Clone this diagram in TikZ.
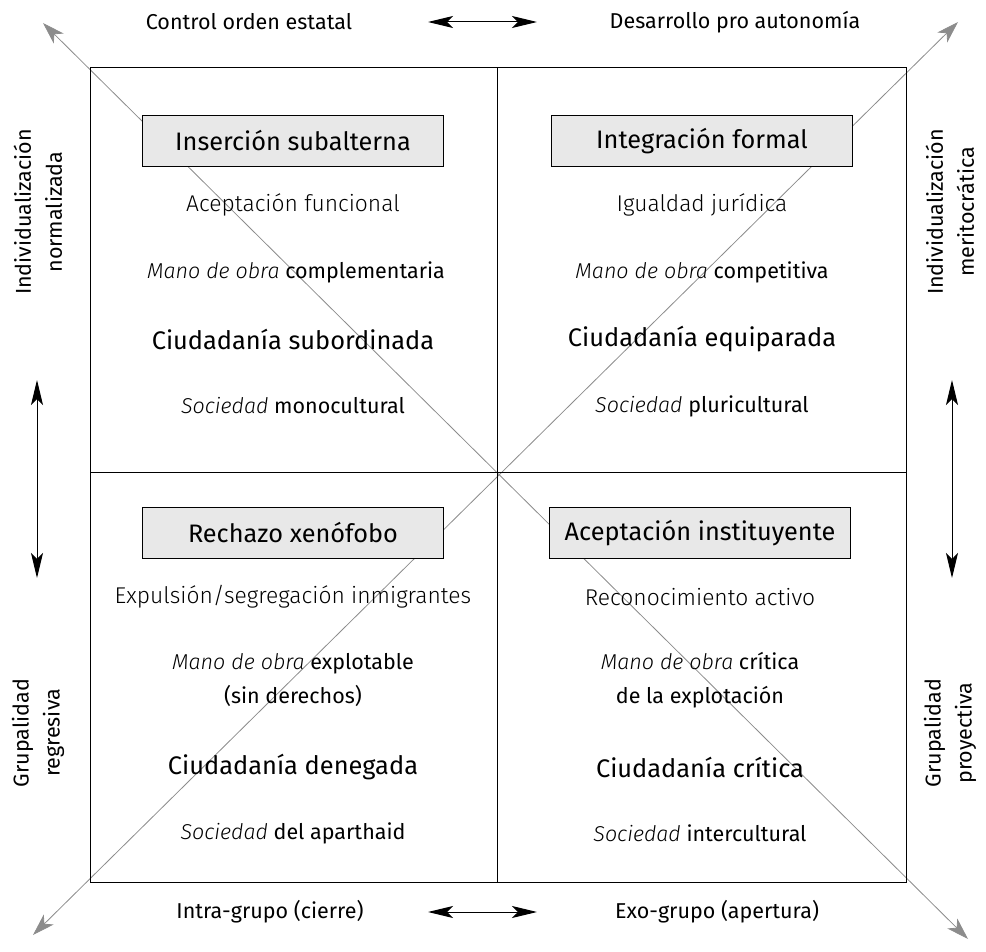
\documentclass[tikz,border=0pt]{standalone}
\usepackage{fontspec}
\setmainfont{Fira Sans}
\newfontfamily\lightfont{Fira Sans Light}
\usetikzlibrary{arrows.meta}
\definecolor{boxgray}{HTML}{E8E8E8}
\definecolor{diaggray}{HTML}{8C8C8C}

\begin{document}
\begin{tikzpicture}[x=1pt,y=-1pt,
    title/.style={draw, fill=boxgray, line width=0.8pt, minimum width=301pt, minimum height=51pt, inner sep=0pt, font=\fontsize{25.3}{29}\selectfont},
    lite/.style={font=\lightfont\fontsize{22.8}{34}\selectfont, align=center},
    mixed/.style={font=\fontsize{21.5}{34}\selectfont, align=center},
    citizen/.style={font=\fontsize{25.4}{29}\selectfont},
    side/.style={font=\fontsize{21.5}{31}\selectfont, align=center},
    axis/.style={line width=1pt, {Stealth[length=25pt,width=12pt,inset=6pt]}-{Stealth[length=25pt,width=12pt,inset=6pt]}},
    diag/.style={draw=diaggray, line width=0.8pt, {Stealth[length=22pt,width=14pt,inset=6pt]}-{Stealth[length=22pt,width=14pt,inset=6pt]}}]
    \useasboundingbox (0,0) rectangle (986,952);

    % diagonals
    \coordinate (tl) at (43,23);
    \coordinate (br) at (968,939);
    \coordinate (tr) at (958,22);
    \coordinate (bl) at (33,935);
    \draw[diag] (tl) -- (br);
    \draw[diag] (bl) -- (tr);

    % frame
    \draw[line width=1pt] (90,68) rectangle (906,882);
    \draw[line width=0.8pt] (497,68) -- (497,882);
    \draw[line width=0.8pt] (90,472) -- (906,472);

    % top left
    \node[title] (subalt) at (293,141) {Inserción subalterna};
    \node[lite] (funcional) at (293,205) {Aceptación funcional};
    \node[mixed] (complem) at (296,272) {{\lightfont\itshape Mano de obra} complementaria};
    \node[citizen] (subord) at (293,339) {Ciudadanía subordinada};
    \node[mixed] (monocult) at (293,406) {{\lightfont\itshape Sociedad} monocultural};

    % top right
    \node[title] (formal) at (702,141) {Integración formal};
    \node[lite] (juridica) at (702,205) {Igualdad jurídica};
    \node[mixed] (competit) at (702,272) {{\lightfont\itshape Mano de obra} competitiva};
    \node[citizen] (equip) at (702,339) {Ciudadanía equiparada};
    \node[mixed] (pluricult) at (702,406) {{\lightfont\itshape Sociedad} pluricultural};

    % bottom left
    \node[title] (xeno) at (293,533) {Rechazo xenófobo};
    \node[lite] (expuls) at (293,597) {Expulsión/segregación inmigrantes};
    \node[mixed] (explot) at (293,680) {{\lightfont\itshape Mano de obra} explotable\\(sin derechos)};
    \node[citizen] (deneg) at (293,767) {Ciudadanía denegada};
    \node[mixed] (aparth) at (293,833) {{\lightfont\itshape Sociedad} del aparthaid};

    % bottom right
    \node[title] (instit) at (700,533) {Aceptación instituyente};
    \node[lite] (reconoc) at (700,597) {Reconocimiento activo};
    \node[mixed] (critexp) at (700,680) {{\lightfont\itshape Mano de obra} crítica\\de la explotación};
    \node[citizen] (critica) at (700,767) {Ciudadanía crítica};
    \node[mixed] (intercult) at (700,833) {{\lightfont\itshape Sociedad} intercultural};

    % outer labels
    \node[side] (control) at (249,22) {Control orden estatal};
    \node[side] (desarr) at (735,22) {Desarrollo pro autonomía};
    \node[side] (intra) at (270,912) {Intra-grupo (cierre)};
    \node[side] (exo) at (717,912) {Exo-grupo (apertura)};
    \node[side, rotate=90] (normal) at (38,212) {Individualización\\normalizada};
    \node[side, rotate=90] (regres) at (38,733) {Grupalidad\\regresiva};
    \node[side, rotate=90] (merito) at (950,212) {Individualización\\meritocrática};
    \node[side, rotate=90] (proyect) at (950,733) {Grupalidad\\proyectiva};

    % axis arrows
    \coordinate (topL) at (428,22);
    \coordinate (topR) at (537,22);
    \coordinate (botL) at (428,912);
    \coordinate (botR) at (537,912);
    \coordinate (lefT) at (37,380);
    \coordinate (lefB) at (37,578);
    \coordinate (rigT) at (952,380);
    \coordinate (rigB) at (952,578);
    \draw[axis] (topL) -- (topR);
    \draw[axis] (botL) -- (botR);
    \draw[axis] (lefT) -- (lefB);
    \draw[axis] (rigT) -- (rigB);
\end{tikzpicture}
\end{document}
